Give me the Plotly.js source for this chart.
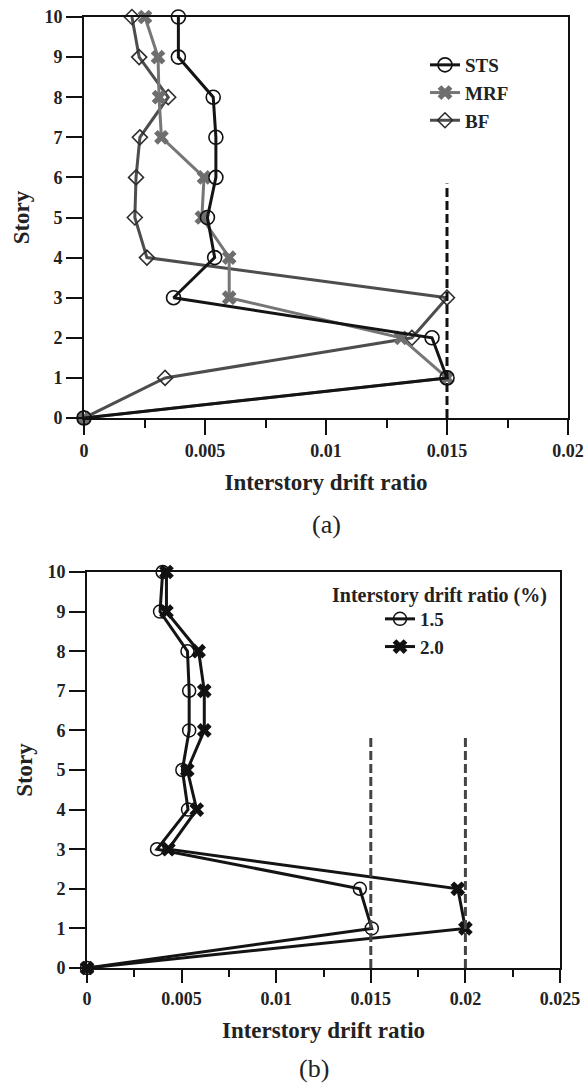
<!DOCTYPE html>
<html><head><meta charset="utf-8">
<script src="https://cdn.plot.ly/plotly-3.0.1.min.js"></script>
<style>html,body{margin:0;padding:0;background:#fff}</style>
</head><body><div id="chart" style="width:585px;height:1084px"></div>
<script>
// ---- data ----
const stories = [0, 1, 2, 3, 4, 5, 6, 7, 8, 9, 10];
// panel (a)
const stsDrift = [0, 0.0150, 0.01438, 0.0037, 0.0054, 0.0051, 0.00545, 0.00545, 0.00534, 0.0039, 0.0039];
const mrfDrift = [0, 0.0150, 0.0131, 0.0060, 0.0060, 0.00487, 0.00496, 0.0032, 0.0031, 0.00306, 0.00252];
const bfDrift  = [0, 0.00335, 0.01355, 0.0150, 0.0026, 0.0021, 0.00215, 0.00231, 0.00348, 0.00228, 0.00198];
// panel (b)
const drift15 = [0, 0.01505, 0.01442, 0.0037, 0.00534, 0.00504, 0.0054, 0.0054, 0.00531, 0.00386, 0.0040];
const drift20 = [0, 0.0200, 0.0196, 0.0043, 0.0058, 0.0053, 0.0062, 0.0062, 0.0059, 0.0042, 0.0042];
// target drift limits (dashed lines)
const limitA = [0.015];
const limitsB = [0.015, 0.02];
const limitSpan = [0, 5.85];
// tick labels
const yTicks = [0, 1, 2, 3, 4, 5, 6, 7, 8, 9, 10];
const xTicksA = [0, 0.005, 0.01, 0.015, 0.02];
const xTextA = ['0', '0.005', '0.01', '0.015', '0.02'];
const xTicksB = [0, 0.005, 0.01, 0.015, 0.02, 0.025];
const xTextB = ['0', '0.005', '0.01', '0.015', '0.02', '0.025'];
const minorA = [0.0025, 0.0075, 0.0125, 0.0175];
const minorB = [0.0025, 0.0075, 0.0125, 0.0175, 0.0225];

const SERIF = 'Liberation Serif, Times New Roman, serif';
const W = 585, H = 1084;
const px = v => v / W, py = v => 1 - v / H;

const traces = [];
// (a) draw order: BF, MRF, STS (STS on top)
traces.push({x: bfDrift, y: stories, name: 'BF', mode: 'lines+markers', cliponaxis: false, legendrank: 3,
  line: {color: '#4d4d4d', width: 3},
  marker: {symbol: 'diamond-open', size: 11.5, color: '#2e2e2e', line: {width: 1.6}}});
traces.push({x: mrfDrift, y: stories, name: 'MRF', mode: 'lines+markers', cliponaxis: false, legendrank: 2,
  line: {color: '#767676', width: 3},
  marker: {symbol: 'x', size: 13, color: '#6e6e6e', line: {width: 0}}});
traces.push({x: stsDrift, y: stories, name: 'STS', mode: 'lines+markers', cliponaxis: false, legendrank: 1,
  line: {color: '#141414', width: 3},
  marker: {symbol: 'circle-open', size: 14, color: '#111', line: {width: 1.6}}});
limitA.forEach(v => traces.push({x: [v, v], y: limitSpan, mode: 'lines', showlegend: false, hoverinfo: 'skip',
  line: {color: '#111', width: 3, dash: '9px,4px'}}));

// (b)
traces.push({x: drift15, y: stories, name: '1.5', mode: 'lines+markers', cliponaxis: false, legend: 'legend2',
  xaxis: 'x2', yaxis: 'y2', line: {color: '#141414', width: 3},
  marker: {symbol: 'circle-open', size: 13, color: '#111', line: {width: 1.5}}});
traces.push({x: drift20, y: stories, name: '2.0', mode: 'lines+markers', cliponaxis: false, legend: 'legend2',
  xaxis: 'x2', yaxis: 'y2', line: {color: '#141414', width: 3},
  marker: {symbol: 'x', size: 13, color: '#111', line: {width: 0}}});
limitsB.forEach(v => traces.push({x: [v, v], y: limitSpan, mode: 'lines', showlegend: false, hoverinfo: 'skip',
  xaxis: 'x2', yaxis: 'y2', line: {color: '#444', width: 3, dash: '9px,4px'}}));

const tickFont = {family: SERIF, size: 18, weight: 'bold', color: '#222'};
const titleFont = {family: SERIF, size: 23, weight: 'bold', color: '#222'};
const legendFont = {family: SERIF, size: 19, weight: 'bold', color: '#222'};
const axisCommon = {showline: true, mirror: true, linecolor: '#111', linewidth: 2, showgrid: false, zeroline: false,
  ticks: 'outside', tickwidth: 2, tickcolor: '#111', tickfont: tickFont, fixedrange: true};

const layout = {
  width: W, height: H, margin: {l: 0, r: 0, t: 0, b: 0}, paper_bgcolor: '#fff', plot_bgcolor: '#fff',
  font: {family: SERIF, color: '#222'},
  showlegend: true,
  xaxis: Object.assign({}, axisCommon, {domain: [px(84), px(568)], range: [0, 0.02], anchor: 'y',
    tickmode: 'array', tickvals: xTicksA, ticktext: xTextA, ticklen: 15,
    minor: {tickmode: 'array', tickvals: minorA, ticks: 'outside', ticklen: 8, tickwidth: 2, tickcolor: '#111'},
    title: {text: 'Interstory drift ratio', font: titleFont, standoff: 14}}),
  yaxis: Object.assign({}, axisCommon, {domain: [py(418), py(17)], range: [0, 10], anchor: 'x',
    tickmode: 'array', tickvals: yTicks, ticklen: 16,
    title: {text: 'Story', font: titleFont, standoff: 8}}),
  xaxis2: Object.assign({}, axisCommon, {domain: [px(87), px(560)], range: [0, 0.025], anchor: 'y2',
    tickmode: 'array', tickvals: xTicksB, ticktext: xTextB, ticklen: 13,
    minor: {tickmode: 'array', tickvals: minorB, ticks: 'outside', ticklen: 7, tickwidth: 2, tickcolor: '#111'},
    title: {text: 'Interstory drift ratio', font: titleFont, standoff: 14}}),
  yaxis2: Object.assign({}, axisCommon, {domain: [py(968), py(572)], range: [0, 10], anchor: 'x2',
    tickmode: 'array', tickvals: yTicks, ticklen: 16,
    title: {text: 'Story', font: titleFont, standoff: 8}}),
  legend: {x: px(425), xanchor: 'left', y: py(46), yanchor: 'top', bgcolor: 'rgba(0,0,0,0)', borderwidth: 0,
    font: legendFont, tracegroupgap: 0},
  legend2: {x: px(380), xanchor: 'left', y: py(600), yanchor: 'top', bgcolor: 'rgba(0,0,0,0)', borderwidth: 0,
    font: legendFont, tracegroupgap: 0},
  annotations: [
    {text: '(a)', xref: 'paper', yref: 'paper', x: px(326), y: py(524), xanchor: 'center', yanchor: 'middle',
      showarrow: false, font: {family: SERIF, size: 26, color: '#222'}},
    {text: '(b)', xref: 'paper', yref: 'paper', x: px(314), y: py(1068), xanchor: 'center', yanchor: 'middle',
      showarrow: false, font: {family: SERIF, size: 26, color: '#222'}},
    {text: 'Interstory drift ratio (%)', xref: 'paper', yref: 'paper', x: px(330), y: py(595), xanchor: 'left', yanchor: 'middle',
      showarrow: false, font: {family: SERIF, size: 20, weight: 'bold', color: '#222'}}
  ]
};

Plotly.newPlot('chart', traces, layout, {staticPlot: true, displayModeBar: false});
</script></body></html>
